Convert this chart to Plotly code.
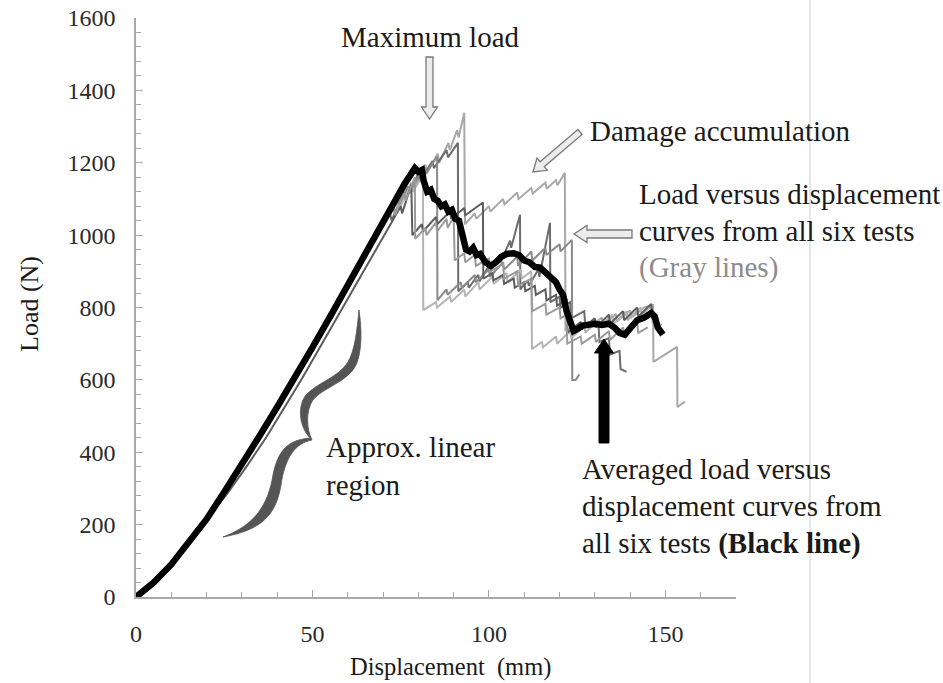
import math
import plotly.graph_objects as go

# ---------------- data ----------------
x_ticks = [0, 50, 100, 150]
y_ticks = [0, 200, 400, 600, 800, 1000, 1200, 1400, 1600]

rise_x = [0, 5, 10, 15, 20, 25, 30, 35, 40, 45, 50, 55, 60, 65, 70]
rise_y = [0, 38, 88, 148, 213, 288, 363, 443, 523, 603, 688, 772, 858, 944, 1028]
rise5_x = [0, 5, 10, 15, 20, 26, 31.5, 37, 42, 47, 52, 57, 62, 67, 72]

g1_x = [74, 74.4, 78, 78.4, 82, 82.4, 85.5, 85.9, 88.5, 88.9, 91, 91.4, 93, 93.2, 96, 96.4, 100, 100.4, 104, 104.4,
        108, 108.4, 112, 112.4, 116, 116.4, 119, 119.4, 121.5, 121.7, 124, 124.3, 128, 128.3, 132, 132.3, 136, 136.3,
        140, 140.3, 144, 146.5, 146.6, 153.3, 153.4, 155.5]
g1_y = [1100, 1075, 1145, 1120, 1195, 1170, 1225, 1200, 1255, 1235, 1290, 1270, 1338, 1030, 1060, 1045, 1080, 1065,
        1100, 1085, 1118, 1100, 1130, 1115, 1145, 1128, 1152, 1138, 1172, 735, 750, 730, 760, 742, 772, 752, 782, 762,
        792, 772, 800, 806, 650, 691, 525, 540]

g2_x = [72, 72.4, 76, 76.4, 80, 80.4, 84, 84.4, 88, 88.4, 91.2, 91.3, 94, 94.3, 97, 97.3, 100, 100.3, 103, 103.3,
        106, 106.3, 108.8, 108.9, 111, 111.3, 114, 114.3, 117.3, 117.4, 120, 120.3, 123, 123.3, 127, 127.3, 131, 131.3,
        134, 134.3, 137, 137.3, 139]
g2_y = [1060, 1040, 1120, 1100, 1170, 1150, 1205, 1185, 1235, 1215, 1255, 845, 870, 855, 890, 872, 915, 895, 945, 925,
        985, 965, 1056, 850, 875, 860, 905, 885, 1034, 815, 830, 800, 815, 770, 790, 745, 760, 705, 715, 670, 680, 630,
        622]

g3_x = [73, 73.4, 77, 77.4, 81, 81.4, 85.3, 85.4, 88, 88.3, 92, 92.3, 96, 96.3, 100, 100.3, 104, 104.3, 108, 108.3,
        112, 112.3, 116, 116.3, 120, 120.3, 123.5, 123.6, 124.6, 125.6]
g3_y = [1080, 1060, 1135, 1115, 1180, 1160, 1217, 820, 850, 835, 870, 855, 890, 870, 905, 885, 925, 905, 940, 915,
        955, 930, 965, 945, 975, 955, 987, 600, 600, 615]

g4_x = [74, 74.4, 78, 78.4, 81.3, 81.4, 85, 85.3, 89, 89.3, 93, 93.3, 97, 97.3, 101, 101.3, 105, 105.3, 109, 109.3,
        112, 112.2, 115, 115.3, 119, 119.3, 123, 123.3, 127, 127.3, 131, 131.3, 135, 135.3, 139, 139.3, 143, 143.3,
        146, 146.3, 149]
g4_y = [1090, 1070, 1140, 1120, 1165, 793, 815, 800, 830, 815, 850, 830, 870, 850, 885, 865, 895, 870, 905, 880,
        900, 685, 705, 690, 720, 700, 735, 715, 750, 730, 765, 745, 780, 755, 790, 765, 800, 780, 805, 760, 752]

g5_x = [75, 75.4, 78, 78.3, 81, 81.3, 85, 85.3, 89, 89.3, 93, 93.3, 98.3, 98.4, 101, 101.3, 104, 104.3, 107, 107.3,
        110, 110.3, 113, 113.3, 116, 116.3, 119, 119.3, 122, 122.2, 126, 126.3, 130, 130.3, 134, 134.3, 138, 138.3,
        142, 142.3, 146, 146.3, 148]
g5_y = [1080, 1060, 1140, 1000, 1030, 1010, 1050, 1030, 1065, 1045, 1075, 1055, 1090, 880, 895, 875, 890, 865, 880,
        855, 870, 845, 860, 835, 850, 820, 835, 805, 820, 730, 760, 740, 770, 745, 780, 755, 790, 765, 800, 775, 810,
        770, 760]

g6_x = [73, 73.4, 76, 76.4, 79, 79.1, 82, 82.3, 85, 85.3, 88, 88.3, 90, 90.3, 93, 93.3, 96, 96.3, 100, 100.3, 104,
        104.3, 108, 108.3, 112, 112.3, 116, 116.3, 120, 120.3, 122, 122.2, 126, 126.3, 130, 130.3, 134, 134.3, 138,
        138.3, 142, 142.3, 145]
g6_y = [1075, 1055, 1115, 1095, 1160, 990, 1020, 1000, 1035, 1010, 1045, 1020, 1050, 930, 950, 925, 945, 915, 935,
        900, 920, 880, 900, 860, 880, 790, 810, 780, 800, 770, 780, 700, 720, 700, 725, 705, 735, 710, 745, 720, 760,
        730, 745]

avg_x = [0, 5, 10, 15, 20, 25, 30, 35, 40, 45, 50, 55, 60, 65, 68, 71, 74, 76, 78, 79, 80, 81, 81.5, 82.5, 83.5,
         84.5, 85.5, 86.5, 87.5, 88.5, 89.5, 90.5, 91.5, 92.5, 93.5, 94.5, 95.5, 96.5, 97.5, 99, 100.5, 102, 103.5,
         105, 107, 108.5, 110, 111.5, 113, 114.5, 116, 117.5, 119, 120, 121, 122, 123, 124, 125, 126.5, 128, 130,
         132, 134, 135.5, 137, 138.5, 140, 142, 144, 146, 147, 147.8, 149.3]
avg_y = [0, 40, 90, 150, 215, 290, 365, 445, 525, 605, 690, 775, 862, 948, 1000, 1060, 1110, 1140, 1170, 1185, 1175,
         1180, 1150, 1120, 1125, 1100, 1095, 1080, 1085, 1065, 1070, 1045, 1040, 1000, 960, 955, 965, 945, 948, 925,
         915, 925, 940, 948, 950, 945, 930, 925, 912, 910, 895, 880, 870, 850, 835, 790, 760, 735, 740, 750, 752, 755,
         752, 755, 745, 730, 725, 745, 765, 772, 785, 775, 745, 725]

gray_curves = [
    ("Test 1", rise_x + g1_x, rise_y + g1_y, "#a8a8a8"),
    ("Test 2", rise_x + g2_x, rise_y + g2_y, "#6c6c6c"),
    ("Test 3", rise_x + g3_x, rise_y + g3_y, "#8a8a8a"),
    ("Test 4", rise_x + g4_x, rise_y + g4_y, "#b4b4b4"),
    ("Test 5", rise5_x + g5_x, rise_y + g5_y, "#5c5c5c"),
    ("Test 6", rise_x + g6_x, rise_y + g6_y, "#9a9a9a"),
]

# ---------------- layout geometry ----------------
W, H = 943, 683
ML, MR, MT, MB = 136, 207, 18, 86
PW, PH = W - ML - MR, H - MT - MB
FONT = "Times New Roman, Liberation Serif, DejaVu Serif, serif"


def fx(p):
    return (p - ML) / PW


def fy(p):
    return (H - MB - p) / PH


def arrow_path(x0, y0, x1, y1, sw, hw, hl):
    dx, dy = x1 - x0, y1 - y0
    L = math.hypot(dx, dy)
    ux, uy = dx / L, dy / L
    nx, ny = -uy, ux
    bx, by = x1 - ux * hl, y1 - uy * hl
    pts = [(x0 + nx * sw / 2, y0 + ny * sw / 2), (bx + nx * sw / 2, by + ny * sw / 2),
           (bx + nx * hw / 2, by + ny * hw / 2), (x1, y1),
           (bx - nx * hw / 2, by - ny * hw / 2), (bx - nx * sw / 2, by - ny * sw / 2),
           (x0 - nx * sw / 2, y0 - ny * sw / 2)]
    s = "M " + " L ".join(f"{fx(a):.5f},{fy(b):.5f}" for a, b in pts) + " Z"
    return s


def curve_path(start, segs):
    s = f"M {fx(start[0]):.5f},{fy(start[1]):.5f}"
    for seg in segs:
        s += " C " + " ".join(f"{fx(a):.5f},{fy(b):.5f}" for a, b in seg)
    return s + " Z"


fig = go.Figure()
for name, xs, ys, col in gray_curves:
    fig.add_trace(go.Scatter(x=xs, y=ys, mode="lines", name=name,
                             line=dict(color=col, width=2)))
fig.add_trace(go.Scatter(x=avg_x, y=avg_y, mode="lines", name="Average",
                         line=dict(color="#000000", width=6.5)))

shapes = []
hollow = dict(type="path", xref="paper", yref="paper", fillcolor="#ececec",
              line=dict(color="#7a7a7a", width=1.3), layer="above")
shapes.append(dict(hollow, path=arrow_path(429.5, 57, 429.5, 119, 7, 16, 12)))
shapes.append(dict(hollow, path=arrow_path(580, 132, 533, 172, 6.5, 16, 12)))
shapes.append(dict(hollow, path=arrow_path(632, 234, 574, 234, 8, 17, 13)))
shapes.append(dict(type="path", xref="paper", yref="paper", fillcolor="#000000",
                   line=dict(color="#000000", width=1), layer="above",
                   path=arrow_path(604, 443, 604, 339, 10, 19, 14)))
brace = curve_path((223, 537), [
    [(255, 525), (268, 505), (273, 475)],
    [(278, 450), (288, 440), (310, 438)],
    [(298, 425), (298, 405), (306, 395)],
    [(318, 382), (338, 378), (348, 362)],
    [(355, 350), (357, 330), (359, 310)],
    [(362, 330), (362, 352), (356, 365)],
    [(348, 382), (322, 388), (313, 400)],
    [(306, 410), (306, 428), (312, 440)],
    [(295, 443), (285, 458), (281, 485)],
    [(276, 515), (262, 530), (223, 537)],
])
shapes.append(dict(type="path", xref="paper", yref="paper", fillcolor="#555555",
                   line=dict(color="#555555", width=0.8), path=brace))
shapes.append(dict(type="line", xref="paper", yref="paper", x0=fx(810), x1=fx(810),
                   y0=fy(H), y1=fy(0), line=dict(color="#cfcfcf", width=1)))

ann = []


def txt(text, x, y, size=29, color="#1a1a1a", xanchor="left", angle=0):
    ann.append(dict(text=text, x=fx(x), y=fy(y), xref="paper", yref="paper", showarrow=False,
                    xanchor=xanchor, yanchor="middle", textangle=angle,
                    font=dict(family=FONT, size=size, color=color)))


txt("Maximum load", 430, 37, xanchor="center")
txt("Damage accumulation", 588, 131)
txt("Load versus displacement", 637, 194)
txt("curves from all six tests", 637, 231)
txt("(Gray lines)", 637, 267, color="#8c8c8c")
txt("Approx. linear", 324, 447)
txt("region", 324, 485)
txt("Averaged load versus", 580, 469)
txt("displacement curves from", 580, 506)
txt("all six tests <b>(Black line)</b>", 580, 543)
txt("Displacement  (mm)", 450, 667, size=24.5, xanchor="center")
txt("Load (N)", 29, 304, size=26, xanchor="center", angle=-90)

axis_col = "#a9a9a9"
fig.update_layout(
    width=W, height=H, margin=dict(l=ML, r=MR, t=MT, b=MB, autoexpand=False),
    paper_bgcolor="white", plot_bgcolor="white", showlegend=False,
    shapes=shapes, annotations=ann, font=dict(family=FONT),
    xaxis=dict(range=[0, 170], tickmode="array", tickvals=x_ticks, ticktext=[str(v) for v in x_ticks],
               ticks="inside", ticklen=7, tickwidth=1.3, tickcolor=axis_col,
               minor=dict(dtick=10, tick0=0, ticks="inside", ticklen=5, tickwidth=1.3, tickcolor=axis_col),
               showline=True, linecolor=axis_col, linewidth=1.5, showgrid=False, zeroline=False,
               tickfont=dict(family=FONT, size=24, color="#2a2a2a"), ticklabelstandoff=14, fixedrange=True),
    yaxis=dict(range=[0, 1600], tickmode="array", tickvals=y_ticks, ticktext=[str(v) for v in y_ticks],
               ticks="inside", ticklen=7, tickwidth=1.3, tickcolor=axis_col,
               minor=dict(dtick=40, tick0=0, ticks="inside", ticklen=5, tickwidth=1.3, tickcolor=axis_col),
               showline=True, linecolor=axis_col, linewidth=1.5, showgrid=False, zeroline=False,
               tickfont=dict(family=FONT, size=24, color="#2a2a2a"), ticklabelstandoff=14, fixedrange=True),
)

fig.write_html("out.html")
